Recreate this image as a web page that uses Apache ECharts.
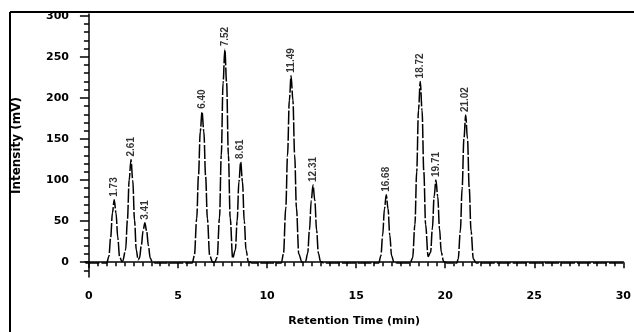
<!DOCTYPE html>
<html>
<head>
<meta charset="utf-8">
<script src="https://cdn.jsdelivr.net/npm/echarts@6/dist/echarts.min.js"></script>
<style>
html,body{margin:0;padding:0;background:#fff;}
#c{width:634px;height:332px;}
</style>
</head>
<body>
<div id="c"></div>
<script>
// Chromatogram trace (time in min, intensity in mV)
var traceTime = [
  -0.2, 1.0, 1.12, 1.22, 1.32, 1.42, 1.52, 1.62, 1.72, 1.85,
  1.89, 2.06, 2.16, 2.26, 2.36, 2.46, 2.56, 2.66, 2.76,
  2.84, 2.94, 3.04, 3.14, 3.24, 3.34, 3.44, 3.57, 3.72,
  5.8, 5.92, 6.05, 6.15, 6.25, 6.35, 6.45, 6.55, 6.65, 6.78, 6.95,
  7.06, 7.2, 7.33, 7.43, 7.53, 7.63, 7.73, 7.83, 7.93, 8.07,
  8.22, 8.32, 8.42, 8.52, 8.62, 8.72, 8.82, 8.95, 9.15,
  10.8, 10.92, 11.05, 11.15, 11.25, 11.35, 11.45, 11.55, 11.65, 11.78, 11.96,
  12.16, 12.28, 12.38, 12.48, 12.58, 12.68, 12.78, 12.88, 13.0, 13.18,
  16.27, 16.39, 16.49, 16.59, 16.69, 16.79, 16.89, 16.99, 17.12, 17.3,
  18.03, 18.17, 18.3, 18.4, 18.5, 18.6, 18.7, 18.8, 18.9, 19.04,
  19.18, 19.28, 19.38, 19.48, 19.58, 19.68, 19.78, 19.91, 20.1,
  20.65, 20.73, 20.85, 20.95, 21.05, 21.15, 21.25, 21.35, 21.45, 21.58, 21.74,
  30
];
var traceIntensity = [
  -1, -1, 7, 30, 60, 76, 60, 30, 7, 1,
  1, 15, 51, 100, 125, 100, 51, 15, 3,
  5, 20, 38, 48, 38, 20, 5, 0, -1,
  -1, 8, 53, 105, 159, 183, 159, 105, 53, 8, 0,
  0, 6, 54, 130, 218, 259, 218, 130, 54, 5,
  15, 50, 98, 122, 98, 50, 15, 1, -1,
  -1, 10, 66, 130, 197, 227, 197, 130, 66, 10, 0,
  1, 11, 39, 75, 94, 75, 39, 11, 1, -1,
  -1, 8, 33, 65, 82, 65, 33, 8, 0, -1,
  -1, 5, 46, 110, 185, 220, 185, 110, 46, 7,
  12, 41, 80, 100, 80, 41, 12, 1, -1,
  -1, 4, 38, 90, 150, 179, 150, 90, 38, 4, -1,
  -1
];
// Peak apexes and their labels
var peakTimes   = [1.42, 2.36, 3.14, 6.35, 7.63, 8.52, 11.35, 12.58, 16.69, 18.6, 19.48, 21.15];
var peakHeights = [76, 125, 48, 183, 259, 122, 227, 94, 82, 220, 100, 179];
var peakLabels  = ['1.73', '2.61', '3.41', '6.40', '7.52', '8.61', '11.49', '12.31', '16.68', '18.72', '19.71', '21.02'];
// Axis ticks
var xTicks = [0, 5, 10, 15, 20, 25, 30];
var xMinorTicks = [0.5,1,1.5,2,2.5,3,3.5,4,4.5,5.5,6,6.5,7,7.5,8,8.5,9,9.5,10.5,11,11.5,12,12.5,13,13.5,14,14.5,15.5,16,16.5,17,17.5,18,18.5,19,19.5,20.5,21,21.5,22,22.5,23,23.5,24,24.5,25.5,26,26.5,27,27.5,28,28.5,29,29.5];
var yTicks = [0, 50, 100, 150, 200, 250, 300];
var yMinorTicks = [-10,10,20,30,40,60,70,80,90,110,120,130,140,160,170,180,190,210,220,230,240,260,270,280,290];

var tracePoints = traceTime.map(function (t, i) { return [t, traceIntensity[i]]; });
var peakPoints = peakTimes.map(function (t, i) { return [t, peakHeights[i], peakLabels[i]]; });

var tickFont = { fontFamily: 'DejaVu Sans', fontWeight: 'bold', fontSize: 11, color: '#000' };

var chart = echarts.init(document.getElementById('c'), null, { renderer: 'canvas' });
chart.setOption({
  animation: false,
  backgroundColor: '#fff',
  grid: { left: 85, right: 6, top: 14, bottom: 50, containLabel: false },
  xAxis: [{
    type: 'value', min: -0.22, max: 30,
    axisLine: { show: true, lineStyle: { color: '#000', width: 1.5 } },
    axisTick: { show: true, customValues: xTicks, length: 6, lineStyle: { color: '#000', width: 1.5 } },
    axisLabel: Object.assign({ customValues: xTicks, margin: 14 }, tickFont),
    splitLine: { show: false },
    name: 'Retention Time (min)', nameLocation: 'middle', nameGap: 39,
    nameTextStyle: { fontFamily: 'DejaVu Sans', fontWeight: 'bold', fontSize: 11, color: '#000' }
  }, {
    type: 'value', min: -0.22, max: 30, position: 'bottom',
    axisLine: { show: false },
    axisTick: { show: true, customValues: xMinorTicks, length: 4, lineStyle: { color: '#000', width: 1.5 } },
    axisLabel: { show: false },
    splitLine: { show: false }
  }],
  yAxis: [{
    type: 'value', min: -18, max: 302,
    axisLine: { show: true, lineStyle: { color: '#000', width: 1.5 } },
    axisTick: { show: true, customValues: yTicks, length: 9, lineStyle: { color: '#000', width: 1.5 } },
    axisLabel: Object.assign({ customValues: yTicks, margin: 16 }, tickFont),
    splitLine: { show: false },
    name: 'Intensity (mV)', nameLocation: 'middle', nameGap: 62,
    nameTextStyle: { fontFamily: 'DejaVu Sans', fontWeight: 'bold', fontSize: 12, color: '#000' }
  }, {
    type: 'value', min: -18, max: 302, position: 'left',
    axisLine: { show: false },
    axisTick: { show: true, customValues: yMinorTicks, length: 5, lineStyle: { color: '#000', width: 1.5 } },
    axisLabel: { show: false },
    splitLine: { show: false }
  }],
  graphic: [
    { type: 'line', shape: { x1: 10, y1: 12, x2: 10, y2: 332 }, style: { stroke: '#000', lineWidth: 2 } },
    { type: 'line', shape: { x1: 10, y1: 12, x2: 634, y2: 12 }, style: { stroke: '#000', lineWidth: 2 } }
  ],
  series: [{
    type: 'line',
    data: tracePoints,
    showSymbol: false,
    smooth: 0.35,
    smoothMonotone: 'x',
    lineStyle: { color: '#000', width: 1.5, type: [14, 2] },
    clip: false,
    z: 2
  }, {
    type: 'scatter',
    data: peakPoints,
    symbolSize: 2,
    itemStyle: { color: 'rgba(0,0,0,0)' },
    z: 3,
    label: {
      show: true, position: 'top', distance: 2, rotate: 90,
      align: 'left', verticalAlign: 'middle',
      formatter: function (p) { return p.data[2]; },
      fontFamily: 'Liberation Sans', fontWeight: 'bold', fontSize: 10, color: '#000'
    }
  }]
});
</script>
</body>
</html>
